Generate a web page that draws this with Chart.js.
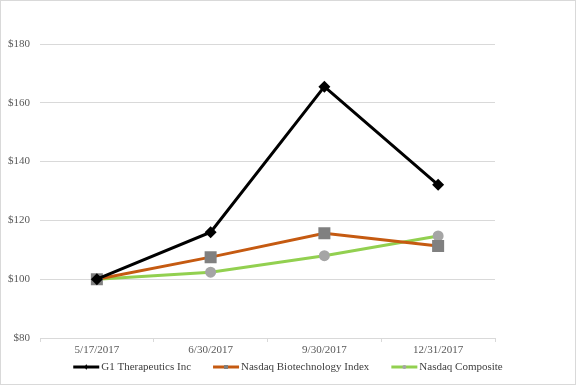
<!DOCTYPE html>
<html><head><meta charset="utf-8">
<script src="https://cdn.jsdelivr.net/npm/chart.js@4/dist/chart.umd.min.js"></script>
<style>
html,body{margin:0;padding:0;background:#fff;}
#wrap{position:relative;width:576px;height:385px;box-sizing:border-box;border:1px solid #d9d9d9;}
canvas{display:block;}
</style></head>
<body><div id="wrap"><canvas id="c" width="574" height="383"></canvas></div>
<script>
const categories = ["5/17/2017", "6/30/2017", "9/30/2017", "12/31/2017"];
const seriesNames = ["G1 Therapeutics Inc", "Nasdaq Biotechnology Index", "Nasdaq Composite"];
const g1Values = [100, 116.0, 165.5, 132.1];
const biotechValues = [100, 107.5, 115.6, 111.3];
const compositeValues = [100, 102.4, 108.0, 114.7];
const yTicks = [80, 100, 120, 140, 160, 180];

const serif = "'Liberation Serif', 'Times New Roman', serif";

// Legend drawn under the axes, using each dataset's own colours
const bottomLegend = {
  id: 'bottomLegend',
  afterDraw(chart) {
    const ctx = chart.ctx;
    ctx.save();
    ctx.font = '11px ' + serif;
    const lineW = 26, textGap = 2, itemGap = 22;
    const items = chart.data.datasets.map(d => ({ d, w: lineW + textGap + ctx.measureText(d.label).width }));
    const total = items.reduce((s, it) => s + it.w, 0) + itemGap * (items.length - 1);
    let x = (chart.width - total) / 2;
    const y = 366;
    items.forEach((it) => {
      const d = it.d;
      ctx.strokeStyle = d.borderColor; ctx.lineWidth = 3;
      ctx.beginPath(); ctx.moveTo(x, y); ctx.lineTo(x + lineW, y); ctx.stroke();
      ctx.fillStyle = d.pointBackgroundColor;
      const cx = x + lineW / 2;
      if (d.pointStyle === 'rectRot') { ctx.beginPath(); ctx.moveTo(cx, y - 3); ctx.lineTo(cx + 1.5, y); ctx.lineTo(cx, y + 3); ctx.lineTo(cx - 1.5, y); ctx.closePath(); ctx.fill(); }
      else if (d.pointStyle === 'rect') { ctx.fillRect(cx - 2, y - 2, 4, 4); }
      else { ctx.beginPath(); ctx.arc(cx, y, 2, 0, Math.PI * 2); ctx.fill(); }
      ctx.fillStyle = '#404040'; ctx.textBaseline = 'middle'; ctx.textAlign = 'left';
      ctx.fillText(d.label, x + lineW + textGap, y + 0.5);
      x += it.w + itemGap;
    });
    ctx.restore();
  }
};

new Chart(document.getElementById('c'), {
  type: 'line',
  data: {
    labels: categories,
    datasets: [
      { label: seriesNames[0], data: g1Values, borderColor: '#000000', backgroundColor: '#000000', borderWidth: 3,
        pointStyle: 'rectRot', pointRadius: 6, pointBorderWidth: 0, pointBackgroundColor: '#000000', tension: 0 },
      { label: seriesNames[1], data: biotechValues, borderColor: '#C55A11', backgroundColor: '#808080', borderWidth: 3,
        pointStyle: 'rect', pointRadius: 8.5, pointBorderWidth: 0, pointBackgroundColor: '#808080', tension: 0 },
      { label: seriesNames[2], data: compositeValues, borderColor: '#92D050', backgroundColor: '#A5A5A5', borderWidth: 3,
        pointStyle: 'circle', pointRadius: 5.5, pointBorderWidth: 0, pointBackgroundColor: '#A5A5A5', tension: 0 }
    ]
  },
  options: {
    responsive: false,
    animation: false,
    layout: { padding: { top: 43, right: 80, left: 0, bottom: 24 } },
    plugins: { tooltip: { enabled: false }, legend: { display: false } },
    scales: {
      x: {
        offset: true,
        grid: { display: true, drawOnChartArea: false, offset: true, drawTicks: true, tickLength: 4, color: '#d9d9d9' },
        border: { display: true, color: '#d9d9d9', width: 1 },
        ticks: { color: '#595959', font: { family: serif, size: 11 }, padding: 2, maxRotation: 0 },
        afterFit: (s) => { s.height = 22; }
      },
      y: {
        min: 80, max: 180,
        afterBuildTicks: (s) => { s.ticks = yTicks.map(v => ({ value: v })); },
        grid: { color: '#d9d9d9', drawTicks: false, lineWidth: 1 },
        border: { display: false },
        ticks: { color: '#595959', font: { family: serif, size: 11 }, padding: 10, callback: (v) => '$' + v },
        afterFit: (s) => { s.width = 39; }
      }
    }
  },
  plugins: [bottomLegend]
});
</script></body></html>
